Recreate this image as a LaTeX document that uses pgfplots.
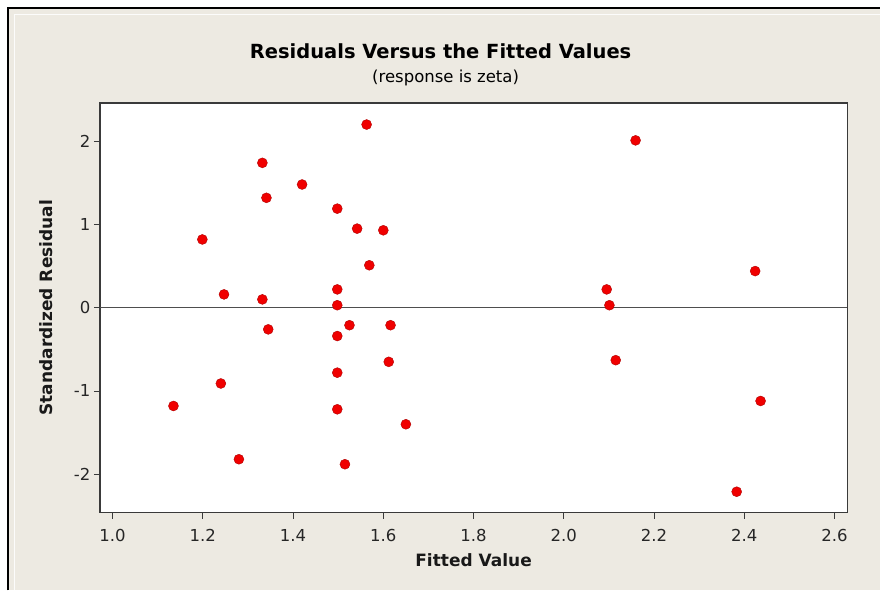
\documentclass[border=0pt]{standalone}
\usepackage{fontspec}
\setmainfont{DejaVu Sans}
\usepackage{pgfplots}
\pgfplotsset{compat=1.18}

\definecolor{panel}{HTML}{EDEAE2}
\definecolor{framegray}{HTML}{3A3A3A}
\definecolor{dotred}{HTML}{F00000}
\definecolor{dotedge}{HTML}{B00000}

\begin{document}
\begin{tikzpicture}[x=1pt,y=1pt]
  % page and graph region
  \fill[white] (0,0) rectangle (881,591);
  \fill[panel] (8,0) rectangle (881,583);
  \draw[white!85!panel, line width=0.8pt] (14,0) -- (14,577) -- (881,577);
  \draw[black, line width=1.6pt] (8,0) -- (8,583) -- (881,583);

  % titles
  \node[anchor=base, inner sep=0pt] at (441,532)
    {\fontsize{19.5}{23}\selectfont\bfseries Residuals Versus the Fitted Values};
  \node[anchor=base, inner sep=0pt] at (446,508)
    {\fontsize{16.5}{20}\selectfont (response is zeta)};

  \begin{axis}[
    at={(100pt,78pt)}, anchor=south west,
    scale only axis, width=748pt, height=410pt,
    xmin=0.972, xmax=2.628, ymin=-2.46, ymax=2.46,
    axis background/.style={fill=white},
    axis line style={framegray, line width=1.3pt},
    xtick={1.0,1.2,1.4,1.6,1.8,2.0,2.2,2.4,2.6},
    xticklabels={1.0,1.2,1.4,1.6,1.8,2.0,2.2,2.4,2.6},
    ytick={-2,-1,0,1,2},
    yticklabels={-2,-1,0,1,2},
    xtick pos=bottom, ytick pos=left,
    tick align=outside,
    major tick length=6pt,
    tick style={framegray, line width=0.9pt},
    ticklabel style={font=\fontsize{16.5}{19}\selectfont, text=black!85},
    xticklabel style={yshift=-7pt},
    /pgf/number format/assume math mode=true,
    xlabel={Fitted Value},
    ylabel={Standardized Residual},
    label style={font=\fontsize{17}{20}\selectfont\bfseries, text=black!90},
    xlabel style={at={(axis description cs:0.5,0)}, anchor=base, yshift=-54pt},
    ylabel style={at={(axis description cs:0,0.5)}, anchor=base, yshift=47pt},
    clip=false,
  ]
    % reference line at zero
    \addplot[framegray!90, line width=1.2pt, forget plot] coordinates {(0.972,0) (2.628,0)};

    % standardized residuals
    \addplot[only marks, mark=*, mark size=5pt,
             mark options={fill=dotred, draw=dotedge, line width=0.4pt}]
    coordinates {
      (1.563,2.20) (1.332,1.74) (1.420,1.48) (1.341,1.32)
      (1.498,1.19) (1.542,0.95) (1.600,0.93) (1.199,0.82)
      (1.569,0.51) (1.247,0.16) (1.332,0.10) (1.498,0.22)
      (1.498,0.03) (1.525,-0.21) (1.616,-0.21) (1.345,-0.26)
      (1.498,-0.34) (1.612,-0.65) (1.498,-0.78) (1.240,-0.91)
      (1.135,-1.18) (1.498,-1.22) (1.650,-1.40) (1.280,-1.82)
      (1.515,-1.88) (2.159,2.01) (2.424,0.44) (2.095,0.22)
      (2.101,0.03) (2.115,-0.63) (2.436,-1.12) (2.383,-2.21)
    };
  \end{axis}
\end{tikzpicture}
\end{document}
